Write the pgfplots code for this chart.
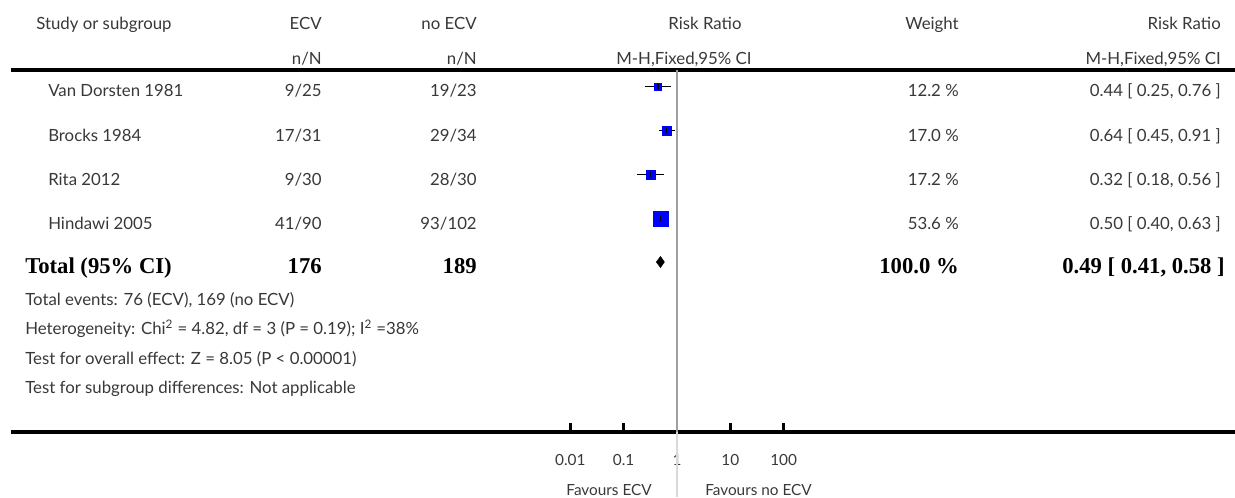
\documentclass[border=0pt]{standalone}
\usepackage{pgfplots}
\pgfplotsset{compat=1.18}
\usepackage{pgfplotstable}
\usepackage{fontspec}
\setmainfont{Lato}
\newfontfamily\serifbf{Liberation Serif}[BoldFont={Liberation Serif Bold}]

% one row per study: risk ratio, row centre (px from top)
\pgfplotstableread{
rr   row
0.44 86.5
0.64 130.5
0.32 174.5
0.50 218.5
}\studies

% 95% CI ends, nan rows break the line between studies
\pgfplotstableread{
x    row
0.25 86.5
0.76 86.5
nan  nan
0.45 130.5
0.91 130.5
nan  nan
0.18 174.5
0.56 174.5
nan  nan
0.40 218.5
0.63 218.5
}\cis

\definecolor{txt}{HTML}{383838}
\definecolor{refline}{HTML}{A0A0A0}

\begin{document}
\begin{tikzpicture}[font=\fontsize{12.6pt}{14pt}\selectfont]
\begin{axis}[
    name=ax,
    width=918pt, height=324pt, scale only axis,
    xmode=log, xmin=3.25e-13, xmax=2.904e10,
    ymin=-432, ymax=0,
    axis x line*=bottom, axis y line=none,
    x axis line style={-, line width=2.5pt},
    xtick={0.01,0.1,1,10,100},
    xticklabels={0.01,0.1,1,10,100},
    xminorticks=false,
    tick align=inside, major tick length=7pt,
    major tick style={black, line width=2pt},
    xticklabel style={anchor=base, yshift=-24.75pt, text=txt,
        font=\fontsize{11.5pt}{13pt}\selectfont},
    clip=false,
    unbounded coords=jump,
    square/.style={only marks, mark=square*, blue, mark size=#1},
]
% header rule
\addplot[black, line width=2.5pt] coordinates {(3.25e-13,-70) (2.904e10,-70)};
% line of no effect
\addplot[refline, line width=1pt] coordinates {(1,-70) (1,-432)};
\addplot[black!15, line width=1pt] coordinates {(1,-432) (1,-497)};
% study squares, side follows the weight
\addplot[square=2.5pt] coordinates {(0.44,-86.5)};
\addplot[square=3.2pt] coordinates {(0.64,-130.5)};
\addplot[square=3.4pt] coordinates {(0.32,-174.5)};
\addplot[square=5.6pt] coordinates {(0.50,-218.5)};
% confidence intervals
\addplot[black, line width=0.8pt] table[x=x, y expr=-\thisrow{row}] {\cis};
\addplot[only marks, mark=|, mark size=2.2pt, black, mark options={line width=0.8pt}]
    table[x=rr, y expr=-\thisrow{row}] {\studies};
% pooled estimate 0.49 [0.41, 0.58]
\addplot[fill=black, draw=black] coordinates {(0.41,-262) (0.49,-256.5) (0.58,-262) (0.49,-267.5)} -- cycle;
\end{axis}

\begin{scope}[shift={(ax.north west)}, xshift=-8.25pt, x=0.75pt, y=-0.75pt,
    every node/.style={inner sep=0pt, text=txt}]
% header
\node[anchor=base west] at (36,29.5) {Study or subgroup};
\node[anchor=base east] at (322,29.5) {ECV};
\node[anchor=base east] at (322,64) {n/N};
\node[anchor=base east] at (477,29.5) {no ECV};
\node[anchor=base east] at (477,64) {n/N};
\node[anchor=base] at (705,29.5) {Risk Ratio};
\node[anchor=base] at (684,64) {M-H,Fixed,95\% CI};
\node[anchor=base east] at (959,29.5) {Weight};
\node[anchor=base east] at (1221,29.5) {Risk Ratio};
\node[anchor=base east] at (1221,64) {M-H,Fixed,95\% CI};
% studies
\node[anchor=base west] at (48,97) {Van Dorsten 1981};
\node[anchor=base east] at (322,97) {9/25};
\node[anchor=base east] at (477,97) {19/23};
\node[anchor=base east] at (959,97) {12.2 \%};
\node[anchor=base east] at (1221,97) {0.44 [ 0.25, 0.76 ]};
\node[anchor=base west] at (48,141) {Brocks 1984};
\node[anchor=base east] at (322,141) {17/31};
\node[anchor=base east] at (477,141) {29/34};
\node[anchor=base east] at (959,141) {17.0 \%};
\node[anchor=base east] at (1221,141) {0.64 [ 0.45, 0.91 ]};
\node[anchor=base west] at (48,185) {Rita 2012};
\node[anchor=base east] at (322,185) {9/30};
\node[anchor=base east] at (477,185) {28/30};
\node[anchor=base east] at (959,185) {17.2 \%};
\node[anchor=base east] at (1221,185) {0.32 [ 0.18, 0.56 ]};
\node[anchor=base west] at (48,229) {Hindawi 2005};
\node[anchor=base east] at (322,229) {41/90};
\node[anchor=base east] at (477,229) {93/102};
\node[anchor=base east] at (959,229) {53.6 \%};
\node[anchor=base east] at (1221,229) {0.50 [ 0.40, 0.63 ]};
% total
\begin{scope}[every node/.append style={text=black, font=\serifbf\bfseries\fontsize{17pt}{19pt}\selectfont}]
\node[anchor=base west] at (25,273) {Total (95\% CI)};
\node[anchor=base east] at (322,273) {176};
\node[anchor=base east] at (477,273) {189};
\node[anchor=base east] at (959,273) {100.0 \%};
\node[anchor=base east] at (1225,273) {0.49 [ 0.41, 0.58 ]};
\end{scope}
% footer
\node[anchor=base west] at (25,305) {Total events: 76 (ECV), 169 (no ECV)};
\node[anchor=base west] at (25,334.5) {Heterogeneity: Chi\textsuperscript{2} = 4.82, df = 3 (P = 0.19); I\textsuperscript{2} =38\%};
\node[anchor=base west] at (25,364) {Test for overall effect: Z = 8.05 (P < 0.00001)};
\node[anchor=base west] at (25,393) {Test for subgroup differences: Not applicable};
% axis captions
\node[anchor=base east, font=\fontsize{11.5pt}{13pt}\selectfont] at (652,495) {Favours ECV};
\node[anchor=base west, font=\fontsize{11.5pt}{13pt}\selectfont] at (705,495) {Favours no ECV};
\pgfresetboundingbox
\path[use as bounding box] (0,0) rectangle (1235,497);
\end{scope}
\end{tikzpicture}
\end{document}
